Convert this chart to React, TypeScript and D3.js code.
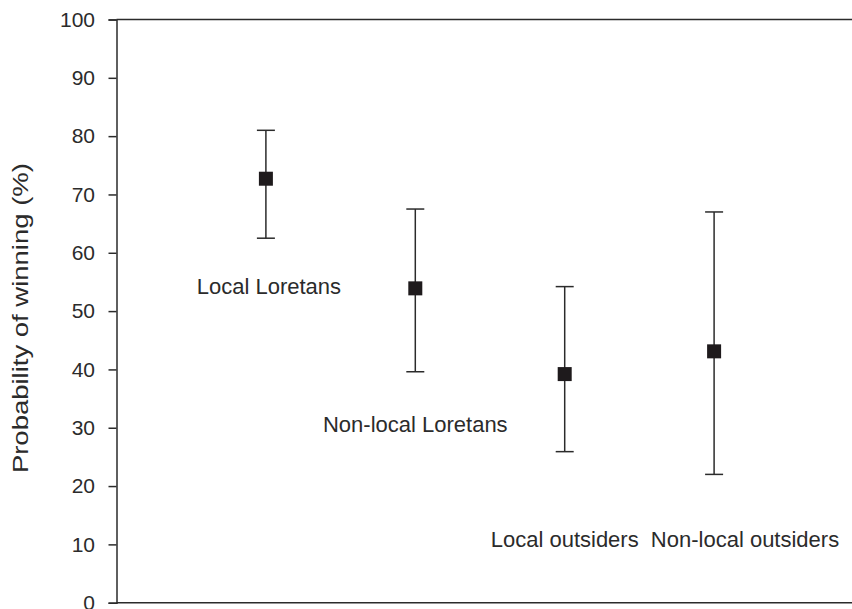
import React, { useEffect, useRef } from 'react';
import * as d3 from 'd3';

const groups = ['Local Loretans', 'Non-local Loretans', 'Local outsiders', 'Non-local outsiders'];
const means = [72.7, 53.9, 39.2, 43.1];
const upper = [81.0, 67.5, 54.2, 67.0];
const lower = [62.5, 39.6, 25.9, 22.0];
// where each group's label sits (x in category units, y in %)
const labelX = [1.02, 2, 3, 4.207];
const labelY = [52.9, 29.3, 9.6, 9.6];
const yTicks = [0, 10, 20, 30, 40, 50, 60, 70, 80, 90, 100];

const App = () => {
  const ref = useRef(null);

  useEffect(() => {
    const width = 852;
    const height = 609;
    const ink = '#2b2b2b';
    const font = '"Liberation Sans", Arial, sans-serif';

    const svg = d3.select(ref.current).attr('width', width).attr('height', height);
    svg.selectAll('*').remove();

    const x = d3.scaleLinear().domain([0, 5]).range([116.5, 863.5]);
    const y = d3.scaleLinear().domain([0, 100]).range([602.7, 19.5]);

    // frame
    svg.append('line')
      .attr('x1', x(0)).attr('x2', width)
      .attr('y1', y(100)).attr('y2', y(100))
      .attr('stroke', ink).attr('stroke-width', 1.5);
    svg.append('line')
      .attr('x1', x(0)).attr('x2', width)
      .attr('y1', y(0)).attr('y2', y(0))
      .attr('stroke', ink).attr('stroke-width', 1.5);

    const yAxis = svg.append('g')
      .attr('transform', `translate(${x(0)},0)`)
      .call(d3.axisLeft(y).tickValues(yTicks).tickSize(8).tickPadding(13.5).tickFormat(d3.format('d')));
    yAxis.select('.domain').attr('stroke', ink).attr('stroke-width', 1.5);
    yAxis.selectAll('.tick line').attr('stroke', ink).attr('stroke-width', 1.5);
    yAxis.selectAll('.tick text')
      .attr('fill', ink)
      .style('font-family', font)
      .style('font-size', '21px');

    svg.append('text')
      .attr('transform', `translate(28,${(y(0) + y(100)) / 2 + 7}) rotate(-90)`)
      .attr('text-anchor', 'middle')
      .attr('fill', ink)
      .attr('textLength', 310)
      .attr('lengthAdjust', 'spacingAndGlyphs')
      .style('font-family', font)
      .style('font-size', '22px')
      .text('Probability of winning (%)');

    const idx = d3.range(groups.length);
    const cap = 9;

    const g = svg.append('g');
    g.selectAll('line.whisker')
      .data(idx)
      .join('line')
      .attr('class', 'whisker')
      .attr('x1', i => x(i + 1)).attr('x2', i => x(i + 1))
      .attr('y1', i => y(upper[i])).attr('y2', i => y(lower[i]))
      .attr('stroke', ink).attr('stroke-width', 1.5);
    g.selectAll('line.capTop')
      .data(idx)
      .join('line')
      .attr('class', 'capTop')
      .attr('x1', i => x(i + 1) - cap).attr('x2', i => x(i + 1) + cap)
      .attr('y1', i => y(upper[i])).attr('y2', i => y(upper[i]))
      .attr('stroke', ink).attr('stroke-width', 1.5);
    g.selectAll('line.capBottom')
      .data(idx)
      .join('line')
      .attr('class', 'capBottom')
      .attr('x1', i => x(i + 1) - cap).attr('x2', i => x(i + 1) + cap)
      .attr('y1', i => y(lower[i])).attr('y2', i => y(lower[i]))
      .attr('stroke', ink).attr('stroke-width', 1.5);
    g.selectAll('rect.mean')
      .data(idx)
      .join('rect')
      .attr('class', 'mean')
      .attr('x', i => x(i + 1) - 7).attr('y', i => y(means[i]) - 7)
      .attr('width', 14).attr('height', 14)
      .attr('fill', '#1e1a1c');

    g.selectAll('text.label')
      .data(idx)
      .join('text')
      .attr('class', 'label')
      .attr('x', i => x(labelX[i]))
      .attr('y', i => y(labelY[i]))
      .attr('text-anchor', 'middle')
      .attr('fill', ink)
      .style('font-family', font)
      .style('font-size', '22px')
      .text(i => groups[i]);
  }, []);

  return <svg ref={ref} style={{ position: 'absolute', left: 0, top: 0 }} />;
};

export default App;
